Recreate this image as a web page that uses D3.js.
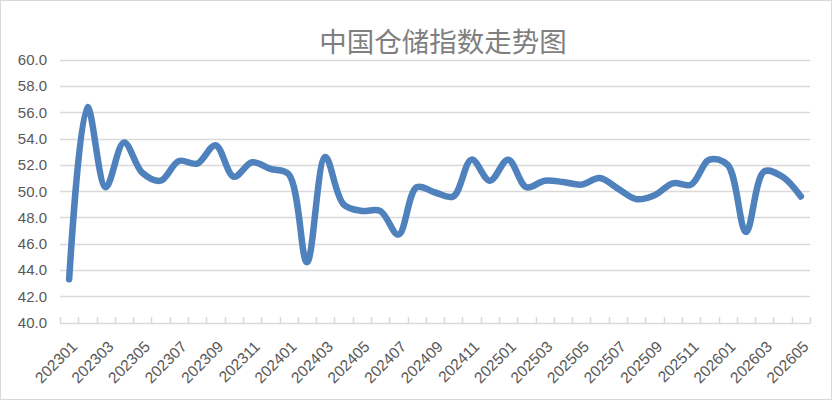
<!DOCTYPE html>
<html>
<head>
<meta charset="utf-8">
<script src="https://cdn.jsdelivr.net/npm/d3@7"></script>
<style>
  html, body { margin: 0; padding: 0; background: #fff; }
  svg { display: block; }
</style>
</head>
<body>
<svg id="chart" width="832" height="400"></svg>
<script>
const title = "中国仓储指数走势图";
const months = [
  "202301","202302","202303","202304","202305","202306","202307","202308","202309","202310","202311","202312",
  "202401","202402","202403","202404","202405","202406","202407","202408","202409","202410","202411","202412",
  "202501","202502","202503","202504","202505","202506","202507","202508","202509","202510","202511","202512",
  "202601","202602","202603","202604","202605"
];
const values = [
  43.3, 56.4, 50.3, 53.7, 51.4, 50.8, 52.3, 52.1, 53.5, 51.1, 52.2, 51.7,
  51.3, 44.6, 52.6, 49.0, 48.5, 48.5, 46.7, 50.3, 49.9, 49.6, 52.4, 50.8,
  52.4, 50.3, 50.8, 50.7, 50.5, 51.0, 50.2, 49.4, 49.7, 50.6, 50.5, 52.4,
  52.0, 46.9, 51.5, 51.1, 49.6
];
const yTicks = [40, 42, 44, 46, 48, 50, 52, 54, 56, 58, 60];

const svg = d3.select("#chart");
const W = 832, H = 400;
const pLeft = 60, pRight = 810, pTop = 59.7, pBottom = 322.7;

// border
svg.append("rect").attr("x", 0.5).attr("y", 0.5).attr("width", W - 1).attr("height", H - 1)
  .attr("fill", "#fff").attr("stroke", "#d9d9d9").attr("stroke-width", 1);

const x = d3.scaleBand().domain(months).range([pLeft, pRight]).paddingInner(0).paddingOuter(0);
const y = d3.scaleLinear().domain([40, 60]).range([pBottom, pTop]);

// gridlines
svg.append("g").selectAll("line").data(yTicks.filter(d => d !== 40)).join("line")
  .attr("x1", pLeft).attr("x2", pRight)
  .attr("y1", d => Math.round(y(d)) + 0.5).attr("y2", d => Math.round(y(d)) + 0.5)
  .attr("stroke", "#d9d9d9").attr("stroke-width", 1.5);

// y axis labels
const yAxis = d3.axisLeft(y).tickValues(yTicks).tickFormat(d3.format(".1f")).tickSize(0).tickPadding(13);
const gy = svg.append("g").attr("transform", `translate(${pLeft},0)`).call(yAxis);
gy.select(".domain").remove();
gy.selectAll("text").attr("fill", "#595959").style("font-family", "'Liberation Sans', Arial, sans-serif").style("font-size", "15px");

// x axis line and ticks (inward)
const ax = svg.append("g");
ax.append("line").attr("x1", pLeft).attr("x2", pRight).attr("y1", Math.round(pBottom) + 0.5).attr("y2", Math.round(pBottom) + 0.5)
  .attr("stroke", "#d9d9d9").attr("stroke-width", 1.5);
const bounds = months.map(m => x(m)).concat([pRight]);
ax.selectAll("line.tk").data(bounds).join("line").attr("class", "tk")
  .attr("x1", d => Math.round(d) + 0.5).attr("x2", d => Math.round(d) + 0.5)
  .attr("y1", Math.round(pBottom) + 0.5).attr("y2", Math.round(pBottom) - 6)
  .attr("stroke", "#d9d9d9").attr("stroke-width", 1.5);

// x labels every 2 months
const xAxis = d3.axisBottom(x).tickValues(months.filter((m, i) => i % 2 === 0)).tickSize(0).tickPadding(0);
const gx = svg.append("g").attr("transform", `translate(0,${pBottom})`).call(xAxis);
gx.select(".domain").remove();
gx.selectAll("text")
  .attr("fill", "#595959")
  .style("font-family", "'Liberation Sans', Arial, sans-serif").style("font-size", "15.5px")
  .attr("text-anchor", "end").attr("dy", "0.35em").attr("y", 0)
  .attr("transform", "translate(5,21) rotate(-45)");

// line
const line = d3.line()
  .x((d, i) => x(months[i]) + x.bandwidth() / 2)
  .y(d => y(d))
  .curve(d3.curveCatmullRom.alpha(0.5));
svg.append("path").datum(values).attr("d", line)
  .attr("fill", "none").attr("stroke", "#4f81bd").attr("stroke-width", 6.5)
  .attr("stroke-linejoin", "round").attr("stroke-linecap", "round");

// title
svg.append("text").attr("x", 443).attr("y", 52).attr("text-anchor", "middle")
  .attr("fill", "#7f7f7f")
  .style("font-family", "'Noto Sans CJK SC', sans-serif").style("font-size", "27.5px")
  .text(title);
</script>
</body>
</html>
